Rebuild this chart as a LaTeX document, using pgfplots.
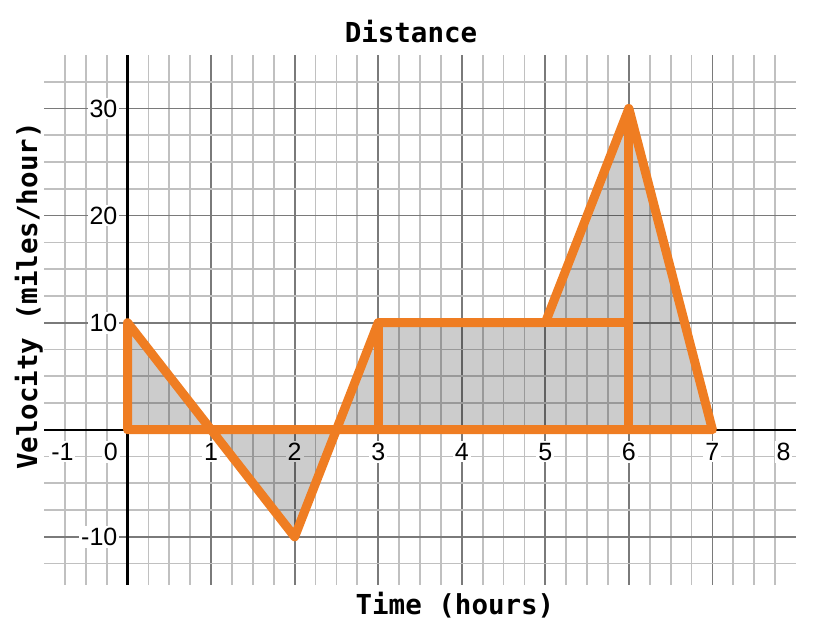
\documentclass[border=0pt]{standalone}
\usepackage{pgfplots}
\pgfplotsset{compat=1.18}
\usepackage{fontspec}
\setmainfont{Liberation Sans}
\newfontfamily\monofont{DejaVu Sans Mono}
\definecolor{orng}{HTML}{EF7D22}
\definecolor{minorg}{HTML}{C0C0C0}
\definecolor{majorg}{HTML}{7A7A7A}
\begin{document}
\begin{tikzpicture}
\useasboundingbox (-44pt,-59pt) rectangle (784pt,585pt);
\begin{axis}[
  at={(0pt,0pt)}, anchor=south west,
  scale only axis, width=752pt, height=530pt,
  xmin=-1, xmax=8, ymin=-14.5, ymax=35,
  axis lines=middle,
  axis line style={-, black, line width=2.2pt},
  xtick={1,2,3,4,5,6,7}, xticklabels={1,2,3,4,5,6,7},
  minor xtick={-0.75,-0.5,-0.25,0,0.25,0.5,0.75,1,1.25,1.5,1.75,2,2.25,2.5,2.75,3,3.25,3.5,3.75,4,4.25,4.5,4.75,5,5.25,5.5,5.75,6,6.25,6.5,6.75,7,7.25,7.5,7.75},
  ytick={-10,10,20,30}, yticklabels={-10,10,20,30},
  minor ytick={-12.5,-7.5,-5,-2.5,2.5,5,7.5,12.5,15,17.5,22.5,25,27.5,32.5},
  extra x ticks={-0.78,-0.2,7.85}, extra x tick labels={-1,0,8},
  extra x tick style={grid=none},
  grid=both,
  major grid style={majorg, line width=1.7pt},
  minor grid style={minorg, line width=1.7pt},
  major tick length=0pt, minor tick length=0pt,
  tick label style={font=\fontsize{25}{25}\selectfont, inner sep=2pt, fill=white},
  xticklabel style={anchor=north, yshift=-11pt},
  yticklabel style={anchor=east, xshift=-8pt},
  title={Distance}, xlabel={Time (hours)}, ylabel={Velocity (miles/hour)},
  every axis title/.style={at={(axis description cs:0.488,1.0245)}, anchor=base, font=\fontsize{27.5}{28}\monofont\bfseries},
  every axis x label/.style={at={(axis description cs:0.5465,-0.0566)}, anchor=base, font=\fontsize{27.5}{28}\monofont\bfseries},
  every axis y label/.style={at={(axis description cs:-0.0093,0.545)}, rotate=90, anchor=base, font=\fontsize{27.5}{28}\monofont\bfseries},
]
\addplot[draw=none, fill=black, fill opacity=0.2] coordinates {(0,0)(0,10)(1,0)(2,-10)(2.5,0)(3,10)(5,10)(6,30)(7,0)} \closedcycle;
\addplot[orng, line width=9pt, line join=round, line cap=round] coordinates {(0,0)(0,10)(1,0)(2,-10)(2.5,0)(3,10)(5,10)(6,30)(7,0)(0,0)};
\addplot[orng, line width=9pt, line cap=round] coordinates {(3,0)(3,10)};
\addplot[orng, line width=9pt, line cap=round] coordinates {(5,10)(6,10)};
\addplot[orng, line width=9pt, line cap=round] coordinates {(6,0)(6,30)};
\end{axis}
\end{tikzpicture}
\end{document}
